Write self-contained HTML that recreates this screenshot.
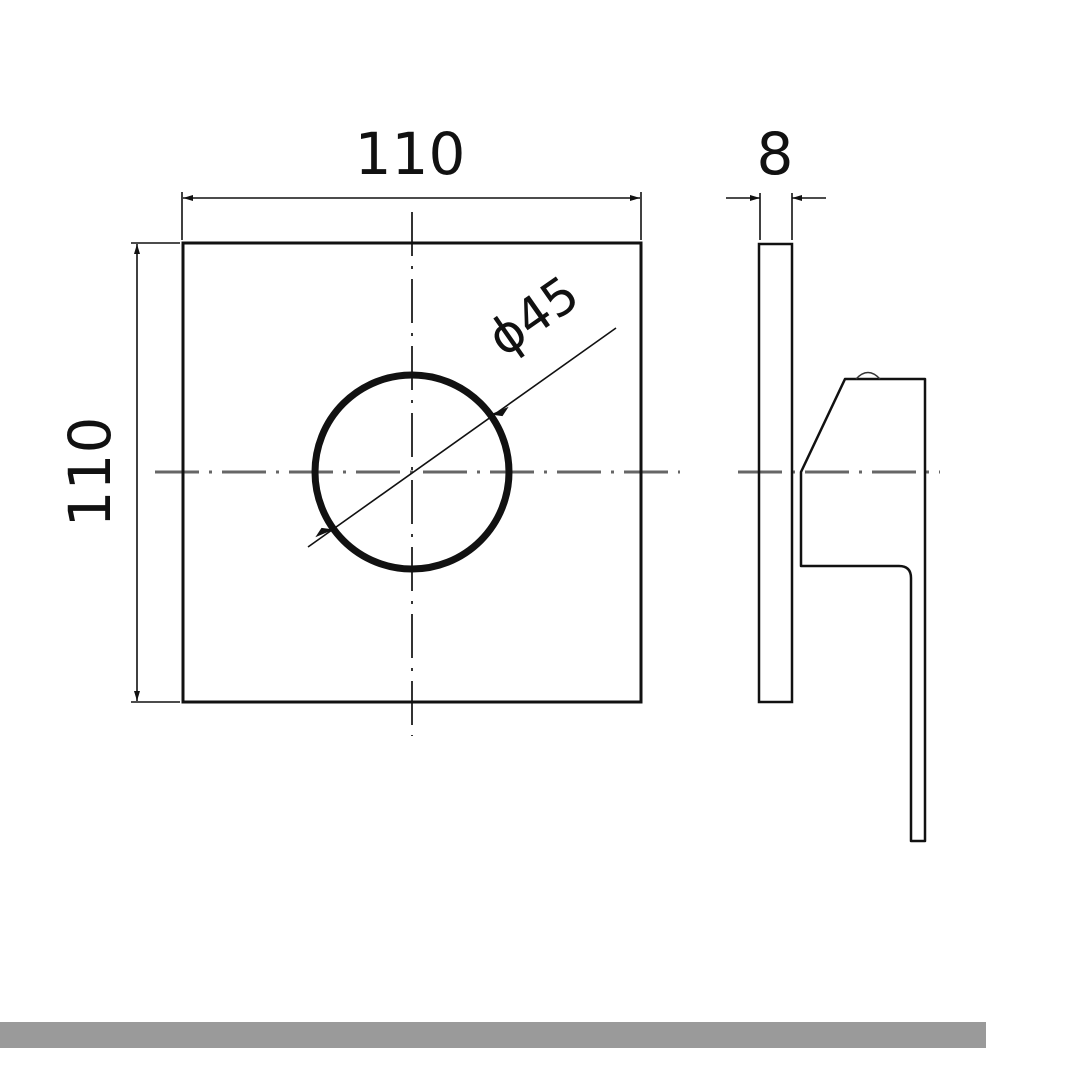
<!DOCTYPE html>
<html><head><meta charset="utf-8"><style>
html,body{margin:0;padding:0;background:#fff;width:1080px;height:1080px;overflow:hidden}
svg{display:block}
text{font-family:"DejaVu Sans","Liberation Sans",sans-serif;fill:#111}
</style></head><body>
<svg width="1080" height="1080" viewBox="0 0 1080 1080" xmlns="http://www.w3.org/2000/svg">
<defs>
<marker id="a" viewBox="0 0 10 6" refX="10" refY="3" markerWidth="10" markerHeight="6" orient="auto-start-reverse" markerUnits="userSpaceOnUse"><path d="M0,0 L10,3 L0,6 z" fill="#111"/></marker>
</defs>
<!-- centerlines -->
<g stroke="#666" stroke-width="3" stroke-dasharray="44,10,3,10" fill="none">
<line x1="155" y1="472" x2="680" y2="472"/>
<line x1="738" y1="472" x2="940" y2="472"/>
</g>
<line x1="412" y1="212" x2="412" y2="736" stroke="#333" stroke-width="2" stroke-dasharray="44,10,3,10"/>
<!-- main plate -->
<rect x="183" y="243" width="458" height="459" fill="none" stroke="#111" stroke-width="3"/>
<circle cx="412" cy="472" r="97" fill="none" stroke="#111" stroke-width="7"/>
<line x1="308" y1="547" x2="616" y2="328" stroke="#111" stroke-width="1.6"/>
<path d="M494,414 L506,409 L502,415 z M330,530 L318,535 L322,529 z" fill="#111" stroke="#111" stroke-width="2"/>
<text x="0" y="0" font-size="50" transform="translate(543,330) rotate(-35)" text-anchor="middle">ϕ45</text>
<!-- dims -->
<g stroke="#111" stroke-width="1.6" fill="none">
<line x1="182" y1="192" x2="182" y2="240"/>
<line x1="641" y1="192" x2="641" y2="240"/>
<line x1="183" y1="198" x2="640" y2="198" marker-start="url(#a)" marker-end="url(#a)"/>
<line x1="131" y1="243" x2="180" y2="243"/>
<line x1="131" y1="702" x2="180" y2="702"/>
<line x1="137" y1="244" x2="137" y2="701" marker-start="url(#a)" marker-end="url(#a)"/>
<line x1="760" y1="193" x2="760" y2="240"/>
<line x1="792" y1="193" x2="792" y2="240"/>
<line x1="726" y1="198" x2="760" y2="198" marker-end="url(#a)"/>
<line x1="826" y1="198" x2="792" y2="198" marker-end="url(#a)"/>
</g>
<text x="410" y="174" font-size="58" text-anchor="middle">110</text>
<text x="0" y="0" font-size="58" text-anchor="middle" transform="translate(110,472) rotate(-90)">110</text>
<text x="775" y="174" font-size="58" text-anchor="middle">8</text>
<!-- side view -->
<rect x="759" y="244" width="33" height="458" fill="none" stroke="#111" stroke-width="2.5"/>
<path d="M845,379 L925,379 L925,841 L911,841 L911,578 Q911,566 899,566 L801,566 L801,472 Z" fill="none" stroke="#111" stroke-width="2.5" stroke-linejoin="round"/>
<path d="M856,379 Q868,366 880,379" fill="none" stroke="#333" stroke-width="1.5"/>
<!-- bottom bar -->
<rect x="0" y="1022" width="986" height="26" fill="#9a9a9a"/>
</svg>
</body></html>
